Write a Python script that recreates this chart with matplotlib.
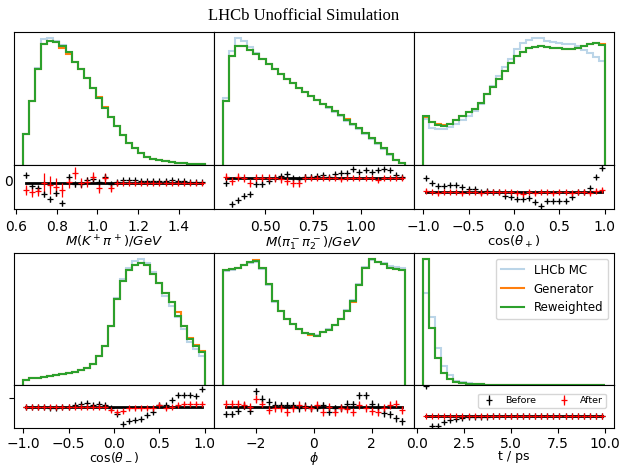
import numpy as np
import matplotlib
matplotlib.use('Agg')
import matplotlib.pyplot as plt

W, H = 620, 467

# ---------------- data ----------------
xlabels = [r'$M(K^+\pi^+)/GeV$', r'$M(\pi_1^-\pi_2^-)/GeV$', r'$\cos(\theta_+)$',
           r'$\cos(\theta_-)$', r'$\phi$', 't / ps']
ranges = [(0.633, 1.53), (0.279, 1.23), (-1.0, 1.0), (-1.0, 1.0), (-np.pi, np.pi), (0.3, 10.0)]
nbins = 30
xticks = [[0.6, 0.8, 1.0, 1.2, 1.4], [0.5, 0.75, 1.0], [-1.0, -0.5, 0.0, 0.5, 1.0],
          [-1.0, -0.5, 0.0, 0.5, 1.0], [-2, 0, 2], [0.0, 2.5, 5.0, 7.5, 10.0]]

# LHCb MC
mc = [
    [31, 64, 96, 125, 125.7, 123, 119, 111.7, 102.7, 95, 86.7, 76.7, 66.7, 56.7, 47.7,
     39, 30, 22.3, 16.7, 11.7, 8.3, 6, 4.7, 3.7, 3, 2.3, 1.7, 1.3, 1, 0.7],
    [66.7, 113, 125.7, 123, 116.7, 111, 105.5, 100, 95, 90, 85, 81, 76.7, 72, 68,
     64.5, 60.5, 56.5, 52.5, 48.3, 44, 40, 35.3, 30.7, 25.7, 20.7, 15.7, 10.3, 4.5, 1.5],
    [45.7, 36.7, 35.7, 35.7, 37.7, 40.7, 45, 49, 54, 61, 70, 78.3, 88.3, 97.7, 105,
     115, 121, 124, 125.7, 125.7, 123.3, 121.7, 121, 120, 120, 118.3, 114.3, 111, 106.7, 103.3],
    [5.3, 6.7, 7.3, 8.3, 9.3, 10, 11, 12, 13.3, 15.3, 17, 21, 28.7, 39.3, 59.3,
     86.7, 106.7, 117.7, 124.3, 126, 122.7, 113.3, 102.7, 89.3, 79.3, 67.7, 56, 42.7, 36, 29.3],
    [114, 115.5, 117.5, 120.5, 122.7, 123.7, 116, 100, 83.5, 74, 66.5, 61.5, 56.5, 52, 51.3,
     50, 53, 55.7, 60, 66.5, 75, 85.5, 101, 118, 125, 123.7, 122, 119, 118, 117.7],
    [92.7, 67.7, 37, 18.7, 10, 4.3, 2.7, 1.7, 1, 0.7, 0.5, 0.35, 0.25, 0.18, 0.12,
     0.09, 0.07, 0.05, 0.04, 0.03, 0.02, 0.02, 0.015, 0.01, 0.01, 0.008, 0.006, 0.005, 0.004, 0.003],
]
# Generator
gen = [
    [30.7, 64, 95.7, 120, 122.7, 121.7, 116.5, 110, 102.7, 95, 86.7, 76.7, 67.5, 57.5, 47.7,
     39, 30, 22.3, 16.7, 11.7, 8.3, 6, 4.7, 3.7, 3, 2.3, 1.7, 1.3, 1, 0.7],
    [64, 107.7, 118.3, 118.3, 114.3, 110, 105, 100, 95.7, 90, 85, 81, 76.7, 72.3, 68.3,
     65, 61, 57.3, 53.3, 50, 45.7, 41, 36.3, 31.7, 26.7, 21.7, 16.7, 11, 5, 1.7],
    [48, 43, 40.7, 39.5, 41, 44.3, 48.3, 52.3, 56, 61.7, 70, 77.7, 85, 93.3, 101.7,
     107.7, 112.3, 115.7, 116.7, 117.7, 116.7, 116.3, 115.7, 115, 115, 115.7, 118.3, 120, 120.7, 120],
    [5.3, 6.7, 7.3, 8.3, 9.3, 10, 11, 12, 13.3, 15.3, 17, 21, 28.7, 39.3, 59.3,
     86, 104.3, 115.3, 120.3, 122, 120, 111.7, 102.7, 92.7, 82.7, 72.7, 59.3, 47, 40, 34],
    [115, 116, 117.7, 120, 123.3, 125.3, 117.7, 101, 84.3, 74.3, 66, 61, 56, 51.7, 50.5,
     49.3, 52.7, 55.3, 60, 66, 74.3, 83, 100, 117.7, 126, 123.3, 121, 117.7, 116, 115.3],
    [126, 57, 26.7, 12, 6, 3.3, 2, 1.3, 1, 0.6, 0.4, 0.3, 0.2, 0.15, 0.1,
     0.08, 0.06, 0.05, 0.04, 0.03, 0.02, 0.02, 0.015, 0.01, 0.01, 0.008, 0.006, 0.005, 0.004, 0.003],
]
# Reweighted
rew = [
    [30.7, 64, 95.7, 120, 122.7, 121.7, 118.3, 111.7, 102.7, 95, 86.7, 76.7, 66.7, 56.7, 47.7,
     39, 30, 22.3, 16.7, 11.7, 8.3, 6, 4.7, 3.7, 3, 2.3, 1.7, 1.3, 1, 0.7],
    [64, 107.7, 118.3, 118.3, 114.3, 110, 105, 100, 95, 90, 85, 81, 76.7, 72.3, 68.3,
     65, 61, 57.3, 53.3, 49.3, 45, 41, 36.3, 31.7, 26.7, 21.7, 16.7, 11, 5, 1.7],
    [49, 42.3, 40, 39, 41, 44.3, 48.3, 52.3, 56, 61.7, 70, 77.7, 85, 93.3, 101.7,
     107.7, 112.3, 115.7, 116.7, 117.7, 116.7, 116.3, 115.7, 115, 115, 115.7, 118.3, 120, 120.7, 119.3],
    [5.3, 6.7, 7.3, 8.3, 9.3, 10, 11, 12, 13.3, 15.3, 17, 21, 28.7, 39.3, 59.3,
     86, 104.3, 115.3, 120.3, 122, 120, 111.7, 102.7, 92.7, 82.7, 69.3, 59.3, 46, 39.3, 33.3],
    [115, 116, 117.7, 120, 123.3, 124.3, 117.7, 101, 84.3, 74.3, 66, 61, 56, 51.7, 51,
     49.3, 52.7, 55.3, 60, 66, 74.3, 84.3, 100, 117.7, 126, 123.3, 121, 117.7, 116, 115.3],
    [126, 57, 26.7, 12, 6, 3.3, 2, 1.3, 1, 0.6, 0.4, 0.3, 0.2, 0.15, 0.1,
     0.08, 0.06, 0.05, 0.04, 0.03, 0.02, 0.02, 0.015, 0.01, 0.01, 0.008, 0.006, 0.005, 0.004, 0.003],
]

# residuals: before / after reweighting
before = [
    [8.3, -2.3, -5, -10.7, -15.7, -10, -20, 6.7, -1, -0.7, 3.3, 4, 1, 6.7, -1,
     1, 3, 3, 3, 2.5, 2, 2.5, 2, 2.5, 3, 2, 2, 1.5, 1.5, 1],
    [-5.7, -26.3, -22.3, -18, -16.3, -6.3, -6.3, -3, 0, 1.7, 3.7, -0.7, -1.7, 1, 1,
     1.7, 2.7, 1, 3.7, 5, 4.3, 8.3, 6, 7.7, 5.3, 7.7, 9, 7.7, 2.7, 1],
    [14, 9, 5.7, 5.7, 6.7, 6.7, 5, 2.3, 2.3, 0, 1, 0, 0, -4.3, -5,
     -7.7, -7.7, -6.7, -10, -14, -9, -9, -9, -9, -5, 0, 0, 3.3, 15, 23.3],
    [0, 0, 0, 0, -1.7, -1.7, 0, 0, 1.7, 3.3, 4, 1.7, 3.3, 1.7, -1.7,
     -7.3, -17.3, -15, -13.3, -12.7, -8.3, -5, 1.7, 2.3, 6.7, 11.7, 11.7, 11.7, 10.7, 18.3],
    [-7.3, -7.3, -4.3, 1, -4.3, 15.7, 8.3, 5, 2.3, 1.7, 1.7, 1.7, -1.7, 1, -1,
     -1, 1.7, -5, -1.7, -1, 3.3, 2.7, 11.7, 11.7, 3.3, 0, -6.7, -7.7, -11.7, -15],
    [30.7, -10, -10, -5.7, -3.3, -2.3, -1.7, -1, -0.7, -0.3, -0.2, 0, 0, 0, 0,
     0, 0, 0, 0, 0, 0, 0, 0, 0, 0, 0, 0, 0, 0, 0],
]
before_err = [
    [2.5] * 16 + [1.5] * 14,
    [2.5] * 16 + [2.0] * 14,
    [2.0] * 30,
    [2.0] * 30,
    [3.5] * 30,
    [2.0] * 10 + [0.5] * 20,
]
after = [
    [-6.7, -9, -7.3, 0, -1.7, -3.3, -6.7, 1.7, 10.7, 0, 1.7, 6.7, -5, 5, -5,
     0, 0.7, 0.7, 0.3, 0, 0.3, 0, 0.3, 0, 0, 0.3, 0, 0, 0, 0],
    [1, -3, 1, 0, -5, 0, 0, 0, -0.7, -1.7, -3, -5, -5, -0.5, 0,
     0, 0, -0.5, 0, -1.7, 0, 0, 0, 0, 0, -2.3, 0, 0, 0, 0],
    [0.7, 0, -1, 0, 0, 0, -1.7, 0, 0, -1.7, 0, 0, 0, 0, 0,
     -1.7, -2.7, 0, -1, 0, 0, -1.7, 0, 0, -1.7, 0, 0, -1, 0.7, 1.7],
    [0, 0, 0, 0, 0, 0, 0, 0, 0, 0, 0, 0, 0, 0, -3.3,
     -5, -4.3, -1.7, -1.7, -1.7, -1, -1, 1.7, -1.7, 0, 1.7, 3.3, 3.3, 3.3, 3.3],
    [2.7, 3.3, 3.3, 1.7, 0, 8.3, 3.3, -3.3, -1, -1, -5, -1, 1.7, 0, -1.7,
     1.7, -5, 0, -5, -1, -2.7, -5, 1.7, -1, -4.3, -5, -1, 1.7, 3.3, -3.3],
    [0] * 30,
]
after_err = [
    [5, 5, 5, 10, 9, 9, 7, 6, 6, 5, 5, 5, 5, 5, 4, 3] + [1.5] * 14,
    [4] * 14 + [2] * 16,
    [2.0] * 30,
    [2.0] * 30,
    [4.0] * 30,
    [0.5] * 30,
]
res_ylim = [(-25.7, 18.3), (-31.3, 12.7), (-17.3, 26.7),
            (-21.7, 22.3), (-21.7, 22.3), (-11.7, 31.7)]

# ---------------- layout ----------------
fig = plt.figure(figsize=(W / 100, H / 100), dpi=100)


def rect(x0, y0, x1, y1):
    return [x0 / W, 1 - y1 / H, (x1 - x0) / W, (y1 - y0) / H]


cols = [(14, 214), (214, 414), (414, 614)]
rows = [((32, 165), (165, 209)), ((253, 385), (385, 428))]

c_mc, c_gen, c_rew = '#1f77b4', '#ff7f0e', '#2ca02c'

for i in range(6):
    r, c = divmod(i, 3)
    (mt, mb), (rt, rb) = rows[r]
    x0, x1 = cols[c]
    axm = fig.add_axes(rect(x0, mt, x1, mb))
    axr = fig.add_axes(rect(x0, rt, x1, rb), sharex=axm)

    edges = np.linspace(ranges[i][0], ranges[i][1], nbins + 1)
    centers = 0.5 * (edges[1:] + edges[:-1])

    axm.stairs(mc[i], edges, color=c_mc, alpha=0.3, lw=1.5, label='LHCb MC')
    axm.stairs(gen[i], edges, color=c_gen, lw=1.5, label='Generator')
    axm.stairs(rew[i], edges, color=c_rew, lw=1.5, label='Reweighted')
    axm.tick_params(left=False, labelleft=False, bottom=False, labelbottom=False)

    axr.plot(centers, np.zeros(nbins), color='k', lw=2)
    axr.errorbar(centers, before[i], yerr=before_err[i], fmt='+', color='k',
                 ms=5, elinewidth=0.9, mew=0.9, label='Before')
    axr.errorbar(centers, after[i], yerr=after_err[i], fmt='+', color='r',
                 ms=5, elinewidth=0.9, mew=0.9, label='After')
    axr.set_ylim(*res_ylim[i])
    axr.set_xticks(xticks[i])
    axr.tick_params(axis='x', labelsize=10, pad=4.5 if r == 0 else 3.0)
    axr.set_xlabel(xlabels[i], fontsize=9.5 if r == 0 else 9,
                   labelpad=0 if r == 0 else -1)
    if c == 0 and r == 0:
        axr.set_yticks([3])
        axr.set_yticklabels(['0'])
        axr.tick_params(axis='y', length=0, pad=1, labelsize=10)
    elif c == 0 and r == 1:
        axr.set_yticks([9])
        axr.set_yticklabels([''])
    else:
        axr.set_yticks([])

    if i == 5:
        axm.legend(loc='upper right', fontsize=8.5)
        axr.legend(loc='upper right', ncol=2, fontsize=6.8, borderaxespad=0.9,
                   borderpad=0.3, handlelength=1.8)

fig.text(0.49, 1 - 16 / H, 'LHCb Unofficial Simulation', ha='center', va='center',
         fontsize=12, family='Liberation Serif')

fig.savefig('out.png', dpi=100)
